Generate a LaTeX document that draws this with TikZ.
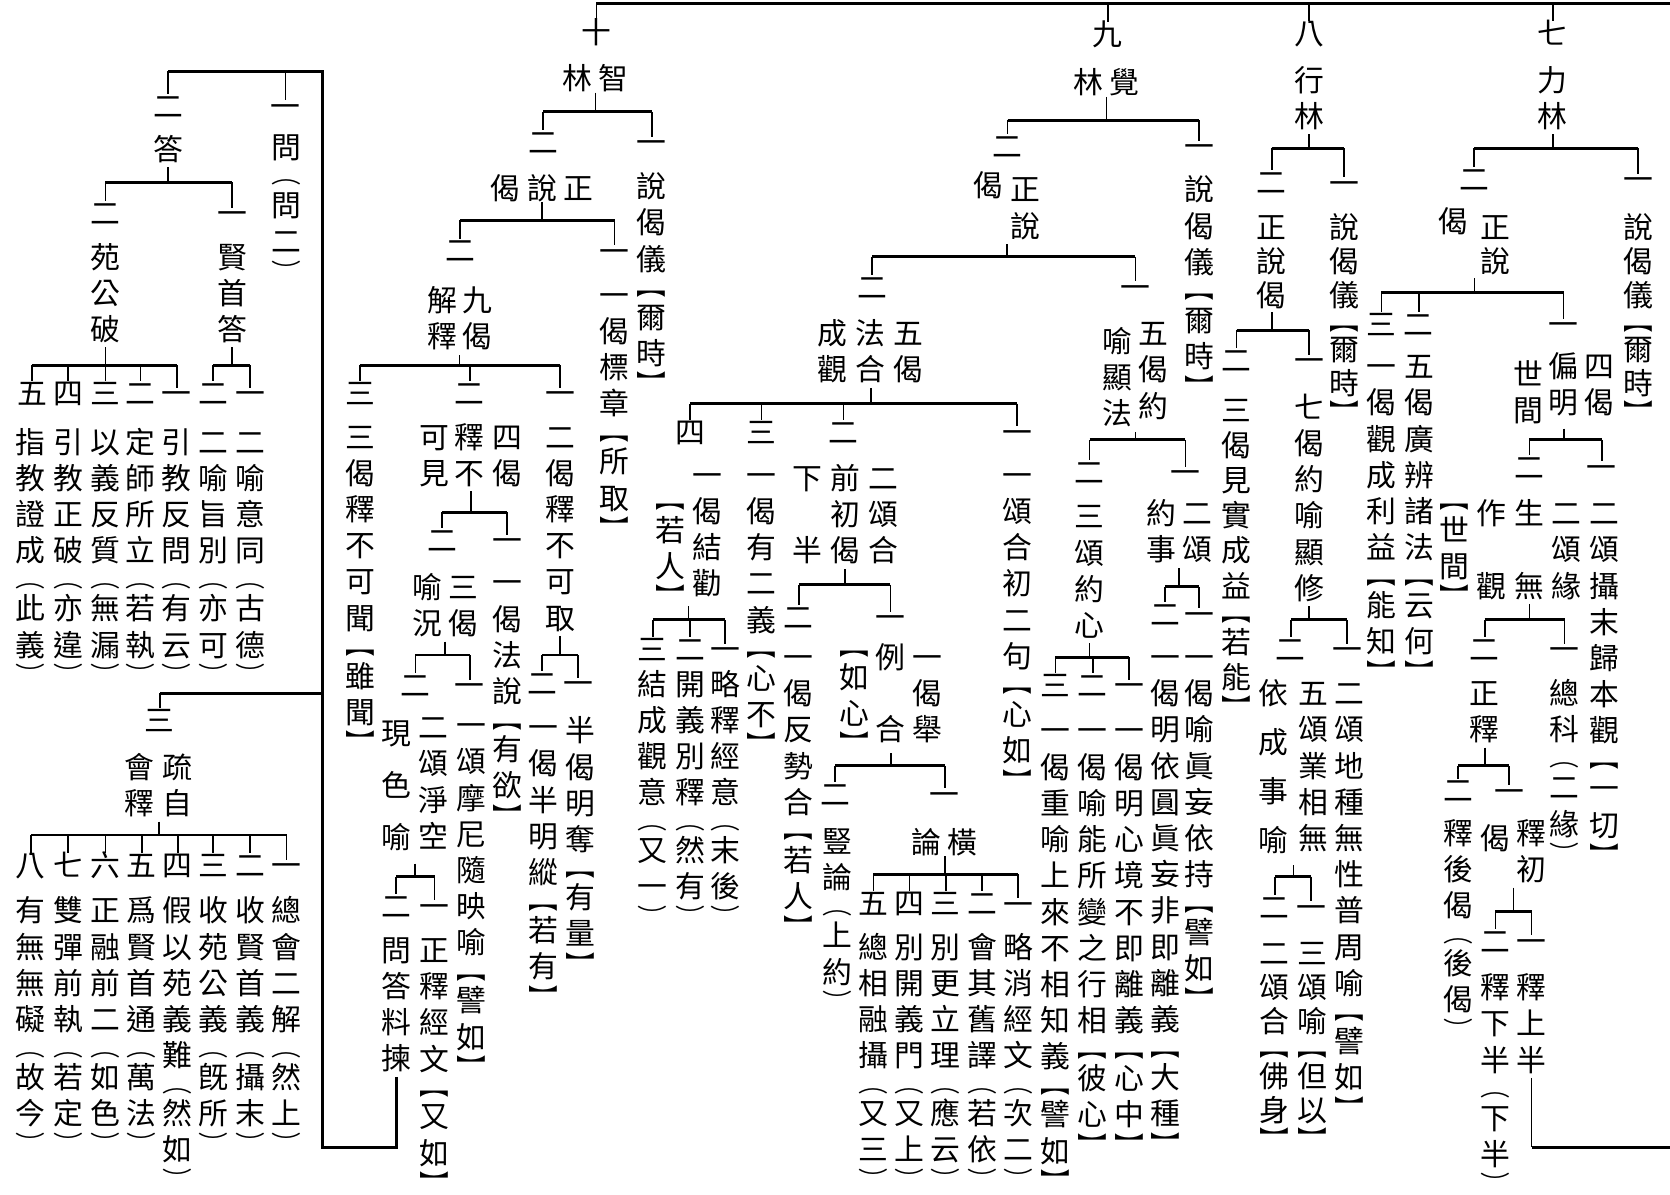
\documentclass[tikz,border=0pt]{standalone}
\usepackage{fontspec}
\usepackage{graphicx}
\setmainfont{Noto Sans CJK TC}
\usetikzlibrary{fit}
\makeatletter
\newlength\vcp
\newcommand\VT[2]{\setlength\vcp{#1}\vbox{\offinterlineskip\VT@loop#2\@nil}}
\def\VT@loop#1{\ifx\@nil#1\else\VT@one{#1}\expandafter\VT@loop\fi}
\def\VT@em#1{\hbox{\vrule height 0.88em depth 0.12em width 0pt\relax#1}}
\def\VT@one#1{\in@{#1}{︻︼︵︶}\ifin@\dimen@=0.6\vcp\def\VT@g{\scalebox{1}[0.7]{\VT@em{#1}}}\else\dimen@=\vcp\def\VT@g{\VT@em{#1}}\fi\hbox to 1em{\hss\vbox to\dimen@{\vss\hbox{\VT@g}\vss}\hss}}
\newcommand\HT[2]{\setlength\vcp{#1}\hbox{\HT@loop#2\@nil}}
\def\HT@loop#1{\ifx\@nil#1\else\hbox to\vcp{\hss#1\hss}\expandafter\HT@loop\fi}
\newcommand\OD[4]{\in@{#4}{一}\ifin@\node[ordst,text height=8pt,yshift=-1.6pt] (#1) at (#2,#3) {#4};\else\node[ordst] (#1) at (#2,#3) {#4};\fi}
\makeatother
\newcommand\CL[5][17]{\node[colst,yshift=#1pt/2] (#2) at (#3,#4) {\VT{#1pt}{#5}};}
\newcommand\HL[4]{\node[hlst] (#1) at (#2,#3) {\HT{17pt}{#4}};}
\newcommand\GP[2]{\node[fit=#2,inner sep=0pt] (#1) {};}
\newcommand\TR[5]{%
  \draw[vl] (#1) -- (#1 |- 0,#2);
  \draw[hl] (#3.north |- 0,#2) -- (#4.north |- 0,#2);
  \foreach \x in {#5}{\draw[vl] (\x.north |- 0,#2) -- (\x.north);}}
\begin{document}
\begin{tikzpicture}[x=0.5pt,y=-0.5pt,
  every node/.style={font=\fontsize{14pt}{17pt}\selectfont},
  colst/.style={anchor=north,inner sep=0pt,outer sep=0pt},
  ordst/.style={inner sep=0pt,outer sep=0pt,text height=11pt,text depth=0pt},
  hlst/.style={inner sep=0pt,outer sep=0pt,text height=12.5pt,text depth=1.5pt},
  vl/.style={line width=0.8pt},
  hl/.style={line width=1.4pt}]
\fill[white] (0,0) rectangle (1568,1122);
\useasboundingbox (0,0) rectangle (1568,1122);
% ---------- top ----------
\OD{t10}{560}{30}{十}
\OD{t9}{1040}{32}{九}
\OD{t8}{1229}{31}{八}
\OD{t7}{1458}{31}{七}
\coordinate (topR) at (1568,3);
\draw[hl] (t10.north |- topR) -- (topR);
\foreach \x in {t10,t9,t8,t7}{\draw[vl] (\x.north |- topR) -- (\x.north);}
% ---------- 十 智林 ----------
\HL{A}{559}{73}{林智}
\OD{A2o}{510}{133}{二}
\OD{A1o}{612}{133}{一}
\TR{A.south}{105}{A2o}{A1o}{A2o,A1o}
\CL{A1}{612}{175}{說偈儀︻爾時︼}
\HL{A2}{509}{176}{偈說正}
\OD{A22o}{432}{235}{二}
\OD{A21o}{577}{235}{一}
\TR{A2.south}{207}{A22o}{A21o}{A22o,A21o}
\CL{A21}{577}{277}{一偈標章︻所取︼}
\CL{A22a}{448}{282}{九偈}
\CL{A22b}{415}{282}{解釋}
\GP{A22}{(A22a)(A22b)}
\OD{A223o}{338}{369}{三}
\OD{A222o}{441}{369}{二}
\OD{A221o}{526}{369}{一}
\TR{A22.south}{343}{A223o}{A221o}{A223o,A222o,A221o}
\CL{A223}{338}{410}{三偈釋不可聞︻雖聞︼}
\CL{A221}{526}{410}{二偈釋不可取}
\OD{A2212o}{509}{641}{二}
\OD{A2211o}{543}{641}{一}
\TR{A221.south}{615}{A2212o}{A2211o}{A2212o,A2211o}
\CL{A2211}{545}{686}{半偈明奪︻有量︼}
\CL{A2212}{510}{683}{一偈半明縱︻若有︼}
\CL{A222a}{476}{410}{四偈}
\CL{A222b}{441}{410}{釋不}
\CL{A222c}{408}{410}{可見}
\GP{A222}{(A222a)(A222b)(A222c)}
\OD{A2222o}{415}{507}{二}
\OD{A2221o}{476}{507}{一}
\TR{A222.south}{481}{A2222o}{A2221o}{A2222o,A2221o}
\CL{A2221}{476}{547}{一偈法說︻有欲︼}
\CL{A2222a}{435}{551}{三偈}
\CL{A2222b}{401}{551}{喻況}
\GP{A2222}{(A2222a)(A2222b)}
\OD{A22222o}{390}{643}{二}
\OD{A22221o}{441}{643}{一}
\TR{A2222.south}{615}{A22222o}{A22221o}{A22222o,A22221o}
\CL{A22221}{443}{681}{一頌摩尼隨映喻︻譬如︼}
\CL{A22222a}{407}{683}{二頌淨空}
\CL[24.5]{A22222b}{372}{688}{現色喻}
\GP{A22222}{(A22222a)(A22222b)}
\OD{Q2o}{372}{850}{二}
\OD{Q1o}{408}{850}{一}
\TR{A22222.south}{823}{Q2o}{Q1o}{Q2o,Q1o}
\CL{Q1}{408}{892}{正釋經文︻又如︼}
\CL{Q2}{372}{892}{問答料揀}
% ---------- left part ----------
\coordinate (sp1) at (303,1077);
\coordinate (sp2) at (303,67);
\coordinate (sp3) at (303,651);
\OD{L1o}{268}{99}{一}
\OD{L2o}{158}{99}{二}
\OD{L3o}{150}{676}{三}
\draw[hl] (Q2.south) |- (sp1) -- (sp2) -- (L2o.north |- sp2);
\draw[vl] (L2o.north |- sp2) -- (L2o.north);
\draw[vl] (L1o.north |- sp2) -- (L1o.north);
\draw[hl] (sp3) -- (L3o.north |- sp3);
\draw[vl] (L3o.north |- sp3) -- (L3o.north);
\CL{L1}{269}{138}{問︵問二︶}
\CL{L2}{158}{140}{答}
\OD{L22o}{99}{200}{二}
\OD{L21o}{218}{200}{一}
\TR{L2.south}{171}{L22o}{L21o}{L22o,L21o}
\CL{L22}{99}{241}{苑公破}
\CL{L21}{218}{241}{賢首答}
\OD{L225o}{30}{369}{五}
\OD{L224o}{64}{369}{四}
\OD{L223o}{99}{369}{三}
\OD{L222o}{132}{369}{二}
\OD{L221o}{166}{369}{一}
\OD{L212o}{200}{369}{二}
\OD{L211o}{235}{369}{一}
\TR{L22.south}{343}{L225o}{L221o}{L225o,L224o,L223o,L222o,L221o}
\TR{L21.south}{343}{L212o}{L211o}{L212o,L211o}
\CL{L225}{29}{415}{指教證成︵此義︶}
\CL{L224}{64}{415}{引教正破︵亦違︶}
\CL{L223}{99}{415}{以義反質︵無漏︶}
\CL{L222}{132}{415}{定師所立︵若執︶}
\CL{L221}{166}{415}{引教反問︵有云︶}
\CL{L212}{200}{415}{二喻旨別︵亦可︶}
\CL{L211}{235}{415}{二喻意同︵古德︶}
\CL{L3a}{167}{720}{疏自}
\CL{L3b}{131}{720}{會釋}
\GP{L3}{(L3a)(L3b)}
\OD{L38o}{29}{812}{八}
\OD{L37o}{64}{812}{七}
\OD{L36o}{99}{812}{六}
\OD{L35o}{133}{812}{五}
\OD{L34o}{167}{812}{四}
\OD{L33o}{200}{812}{三}
\OD{L32o}{235}{812}{二}
\OD{L31o}{269}{812}{一}
\TR{L3.south}{784}{L38o}{L31o}{L38o,L37o,L36o,L35o,L34o,L33o,L32o,L31o}
\CL{L38}{29}{855}{有無無礙︵故今︶}
\CL{L37}{64}{855}{雙彈前執︵若定︶}
\CL{L36}{99}{855}{正融前二︵如色︶}
\CL{L35}{133}{855}{爲賢首通︵萬法︶}
\CL{L34}{167}{855}{假以苑義難︵然如︶}
\CL{L33}{200}{855}{收苑公義︵旣所︶}
\CL{L32}{235}{855}{收賢首義︵攝末︶}
\CL{L31}{269}{855}{總會二解︵然上︶}
% ---------- 九 覺林 ----------
\HL{B}{1039}{77}{林覺}
\OD{B2o}{946}{137}{二}
\OD{B1o}{1126}{137}{一}
\TR{B.south}{113}{B2o}{B1o}{B2o,B1o}
\CL{B1}{1126}{178}{說偈儀︻爾時︼}
\CL{B2a}{963}{178}{正說}
\CL{B2b}{928}{174}{偈}
\GP{B2}{(B2a)(B2b)}
\OD{B22o}{819}{269}{二}
\OD{B21o}{1066}{269}{一}
\TR{B2.south}{241}{B22o}{B21o}{B22o,B21o}
\CL{B22a}{853}{313}{五偈}
\CL{B22b}{817}{313}{法合}
\CL{B22c}{782}{313}{成觀}
\GP{B22}{(B22a)(B22b)(B22c)}
\OD{B224o}{648}{405}{四}
\OD{B223o}{715}{405}{三}
\OD{B222o}{792}{405}{二}
\OD{B221o}{955}{405}{一}
\TR{B22.south}{379}{B224o}{B221o}{B224o,B223o,B222o,B221o}
\CL{B224a}{664}{446}{一偈結勸}
\CL{B224b}{629}{477}{︻若人︼}
\GP{B224}{(B224a)(B224b)}
\OD{B2243o}{613}{609}{三}
\OD{B2242o}{648}{609}{二}
\OD{B2241o}{681}{609}{一}
\TR{B224.south}{582}{B2243o}{B2241o}{B2243o,B2242o,B2241o}
\CL{B2243}{613}{642}{結成觀意︵又一︶}
\CL{B2242}{648}{642}{開義別釋︵然有︶}
\CL{B2241}{681}{642}{略釋經意︵末後︶}
\CL{B223}{715}{446}{一偈有二義︻心不︼}
\CL{B222a}{829}{449}{二頌合}
\CL{B222b}{794}{449}{前初偈}
\CL{B222c}{758}{449}{下　半}
\GP{B222}{(B222a)(B222b)(B222c)}
\OD{B2222o}{750}{579}{二}
\OD{B2221o}{836}{579}{一}
\TR{B222.south}{549}{B2222o}{B2221o}{B2222o,B2221o}
\CL{B2221a}{871}{617}{一偈舉}
\CL{B2221b}{836}{617}{例　合}
\CL{B2221c}{802}{615}{︻如心︼}
\GP{B2221}{(B2221a)(B2221b)(B2221c)}
\OD{B22212o}{784}{745}{二}
\OD{B22211o}{887}{745}{一}
\TR{B2221.south}{719}{B22212o}{B22211o}{B22212o,B22211o}
\CL{B22212}{786}{790}{豎論︵上約︶}
\HL{B22211}{887}{790}{論橫}
\OD{Bh5o}{820}{848}{五}
\OD{Bh4o}{854}{848}{四}
\OD{Bh3o}{888}{848}{三}
\OD{Bh2o}{922}{848}{二}
\OD{Bh1o}{956}{848}{一}
\TR{B22211.south}{821}{Bh5o}{Bh1o}{Bh5o,Bh4o,Bh3o,Bh2o,Bh1o}
\CL{Bh5}{820}{889}{總相融攝︵又三︶}
\CL{Bh4}{854}{889}{別開義門︵又上︶}
\CL{Bh3}{888}{889}{別更立理︵應云︶}
\CL{Bh2}{922}{889}{會其舊譯︵若依︶}
\CL{Bh1}{956}{889}{略消經文︵次二︶}
\CL{B2222}{750}{617}{一偈反勢合︻若人︼}
\CL{B221}{955}{446}{一頌合初二句︻心如︼}
\CL{B21a}{1083}{313}{五偈約}
\CL{B21b}{1049}{320}{喻顯法}
\GP{B21}{(B21a)(B21b)}
\OD{B212o}{1023}{443}{二}
\OD{B211o}{1113}{443}{一}
\TR{B21.south}{413}{B212o}{B211o}{B212o,B211o}
\CL{B212}{1023}{485}{三頌約心}
\OD{B2123o}{991}{643}{三}
\OD{B2122o}{1026}{643}{二}
\OD{B2121o}{1060}{643}{一}
\TR{B212.south}{617}{B2123o}{B2121o}{B2123o,B2122o,B2121o}
\CL{B2123}{991}{686}{一偈重喻上來不相知義︻譬如︼}
\CL{B2122}{1026}{686}{一偈喻能所變之行相︻彼心︼}
\CL{B2121}{1060}{686}{一偈明心境不即離義︻心中︼}
\CL{B211a}{1124}{482}{二頌}
\CL{B211b}{1090}{482}{約事}
\GP{B211}{(B211a)(B211b)}
\OD{B2112o}{1094}{576}{二}
\OD{B2111o}{1126}{576}{一}
\TR{B211.south}{551}{B2112o}{B2111o}{B2112o,B2111o}
\CL{B2112}{1094}{617}{一偈明依圓眞妄非即離義︻大種︼}
\CL{B2111}{1126}{617}{一偈喻眞妄依持︻譬如︼}
% ---------- 八 行林 ----------
\CL{C}{1229}{75}{行林}
\OD{C2o}{1194}{171}{二}
\OD{C1o}{1262}{171}{一}
\TR{C.south}{139}{C2o}{C1o}{C2o,C1o}
\CL[16]{C1}{1262}{213}{說偈儀︻爾時︼}
\CL[16]{C2}{1194}{213}{正說偈}
\OD{C22o}{1161}{338}{二}
\OD{C21o}{1229}{338}{一}
\TR{C2.south}{310}{C22o}{C21o}{C22o,C21o}
\CL[16.5]{C22}{1161}{385}{三偈見實成益︻若能︼}
\CL{C21}{1229}{382}{七偈約喻顯修}
\OD{C212o}{1212}{609}{二}
\OD{C211o}{1265}{609}{一}
\TR{C21.south}{582}{C212o}{C211o}{C212o,C211o}
\CL{C211}{1267}{651}{二頌地種無性普周喻︻譬如︼}
\CL{C212a}{1233}{651}{五頌業相無}
\CL[23]{C212b}{1196}{651}{依成事喻}
\GP{C212}{(C212a)(C212b)}
\OD{C2122o}{1197}{851}{二}
\OD{C2121o}{1231}{851}{一}
\TR{C212.south}{823}{C2122o}{C2121o}{C2122o,C2121o}
\CL[16]{C2121}{1232}{895}{三頌喻︻但以︼}
\CL[16]{C2122}{1197}{895}{二頌合︻佛身︼}
% ---------- 七 力林 ----------
\CL{D}{1458}{75}{力林}
\OD{D2o}{1384}{168}{二}
\OD{D1o}{1538}{168}{一}
\TR{D.south}{139}{D2o}{D1o}{D2o,D1o}
\CL[16]{D1}{1538}{213}{說偈儀︻爾時︼}
\CL[16]{D2a}{1404}{213}{正說}
\CL{D2b}{1365}{208}{偈}
\GP{D2}{(D2a)(D2b)}
\OD{D23o}{1297}{304}{三}
\OD{D22o}{1332}{304}{二}
\OD{D21o}{1468}{304}{一}
\TR{D2.south}{275}{D23o}{D21o}{D23o,D22o,D21o}
\CL{D23}{1297}{344}{一偈觀成利益︻能知︼}
\CL{D22}{1333}{344}{五偈廣辨諸法︻云何︼}
\CL{D21a}{1502}{344}{四偈}
\CL{D21b}{1468}{344}{偏明}
\CL{D21c}{1435}{351}{世間}
\GP{D21}{(D21a)(D21b)(D21c)}
\OD{D212o}{1436}{438}{二}
\OD{D211o}{1504}{438}{一}
\TR{D21.south}{413}{D212o}{D211o}{D212o,D211o}
\CL{D211}{1506}{482}{二頌攝末歸本觀︻一切︼}
\CL{D212a}{1471}{482}{二頌緣}
\CL{D212b}{1436}{482}{生　無}
\CL{D212c}{1400}{482}{作　觀}
\CL{D212d}{1366}{477}{︻世間︼}
\OD{D2122o}{1394}{609}{二}
\OD{D2121o}{1469}{609}{一}
\TR{D212b.south}{582}{D2122o}{D2121o}{D2122o,D2121o}
\CL{D2121}{1469}{651}{總科︵二緣︶}
\CL{D2122}{1394}{651}{正釋}
\OD{D21222o}{1369}{742}{二}
\OD{D21221o}{1417}{742}{一}
\TR{D2122.south}{719}{D21222o}{D21221o}{D21222o,D21221o}
\CL{D21222}{1369}{782}{釋後偈︵後偈︶}
\CL{D21221a}{1438}{782}{釋初}
\CL{D21221b}{1404}{787}{偈}
\GP{D21221}{(D21221a)(D21221b)}
\OD{D212212o}{1404}{883}{二}
\OD{D212211o}{1438}{883}{一}
\TR{D21221.south}{856}{D212212o}{D212211o}{D212212o,D212211o}
\CL{D212211}{1438}{927}{釋上半}
\CL{D212212}{1404}{927}{釋下半︵下半︶}
\coordinate (rE) at (1568,1077);
\draw[vl] (D212211.south) -- (D212211.south |- rE);
\draw[hl] (D212211.south |- rE) -- (rE);
\end{tikzpicture}
\end{document}
